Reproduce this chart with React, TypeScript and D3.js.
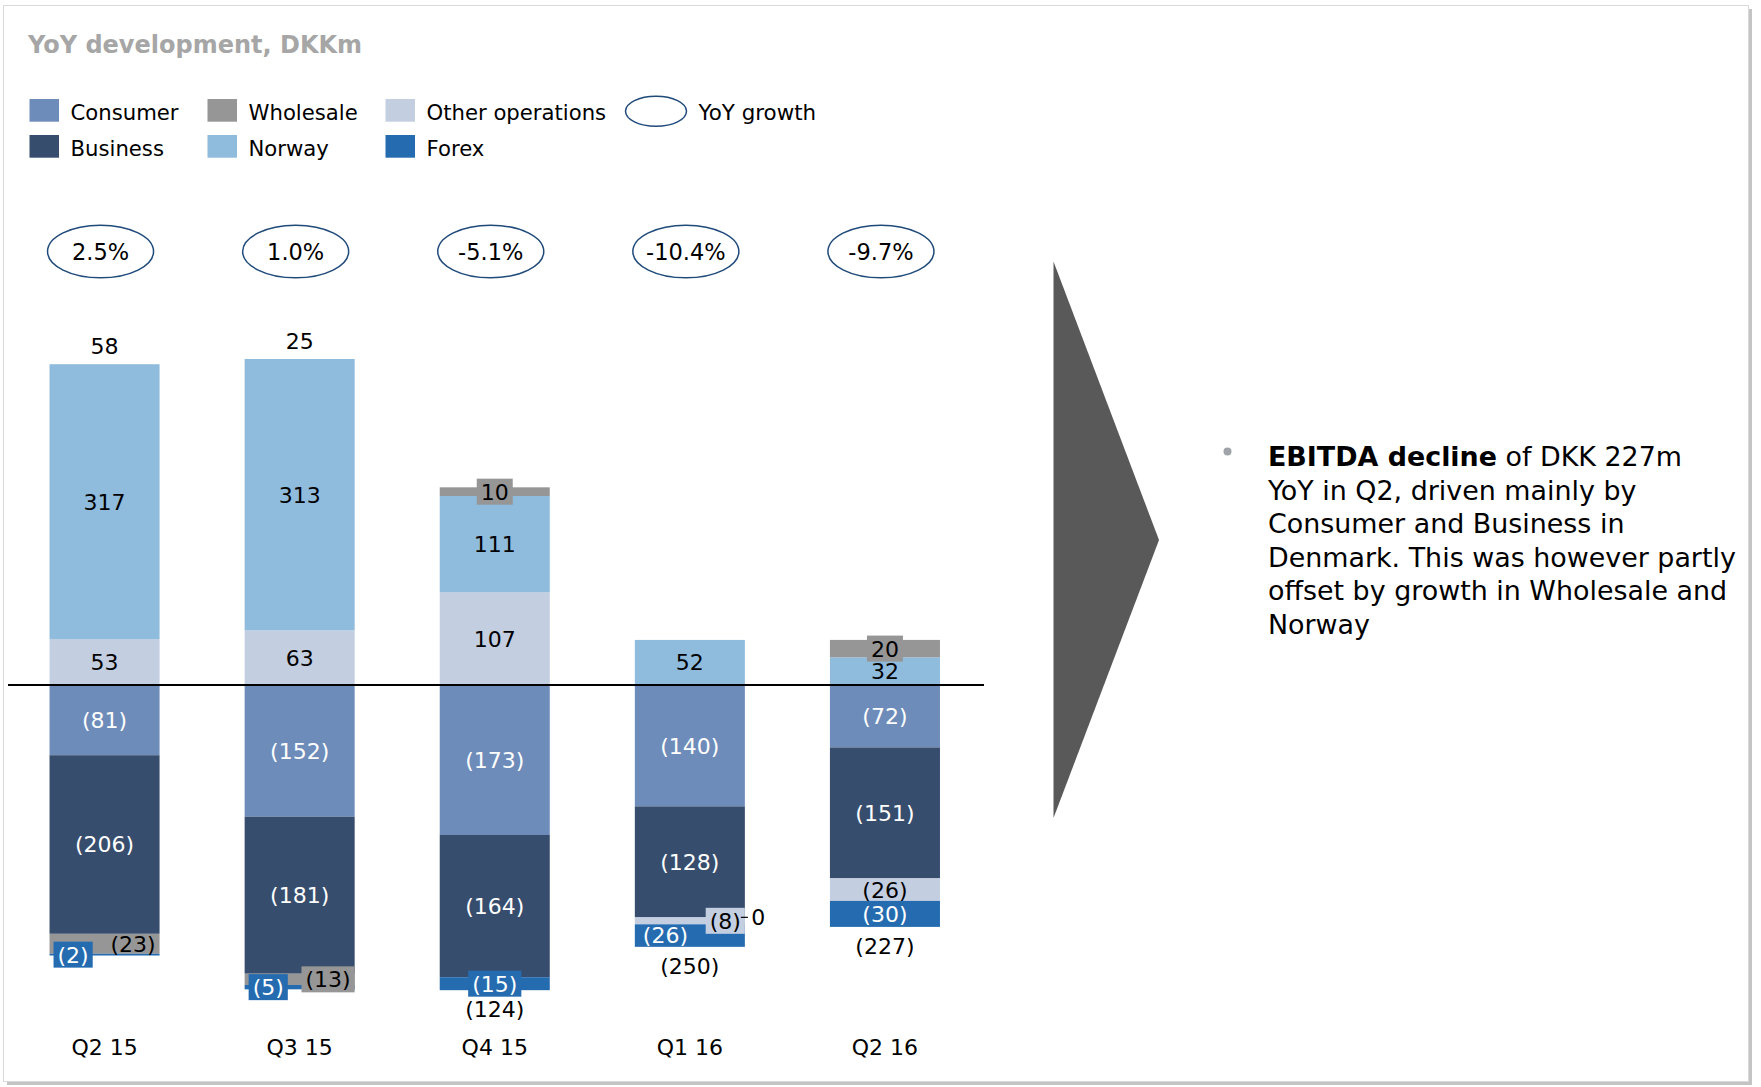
import React, { useEffect, useRef } from "react";
import * as d3 from "d3";

// Quarterly YoY EBITDA bridge, DKKm
const quarters = ["Q2 15", "Q3 15", "Q4 15", "Q1 16", "Q2 16"];
const consumer = [-81, -152, -173, -140, -72];
const business = [-206, -181, -164, -128, -151];
const wholesale = [-23, -13, 10, 0, 20];
const norway = [317, 313, 111, 52, 32];
const otherOperations = [53, 63, 107, -8, -26];
const forex = [-2, -5, -15, -26, -30];
const yoyGrowth = ["2.5%", "1.0%", "-5.1%", "-10.4%", "-9.7%"];

const legendRows = [
  ["Consumer", "Wholesale", "Other operations", "YoY growth"],
  ["Business", "Norway", "Forex"],
];

const bulletBold = "EBITDA decline";
const bulletLines = [
  " of DKK 227m",
  "YoY in Q2, driven mainly by",
  "Consumer and Business in",
  "Denmark. This was however partly",
  "offset by growth in Wholesale and",
  "Norway",
];

const COLORS: Record<string, string> = {
  Consumer: "#6E8CB9",
  Business: "#374D6D",
  Wholesale: "#969696",
  Norway: "#8FBBDC",
  "Other operations": "#C3CEE1",
  Forex: "#256BB0",
};
const LIGHT_TEXT = new Set(["Consumer", "Business", "Forex"]);
const FONT = "'DejaVu Sans', Verdana, sans-serif";
const NAVY = "#1F4A7A";

const fmt = (v: number) => (v < 0 ? `(${-v})` : `${v}`);

export default function App() {
  const ref = useRef<SVGSVGElement>(null);

  useEffect(() => {
    const svg = d3.select(ref.current!);
    svg.selectAll("*").remove();

    // frame with soft shadow
    svg.append("rect").attr("x", 7).attr("y", 9).attr("width", 1745).attr("height", 1076).attr("fill", "#C4C4C4");
    svg.append("rect").attr("x", 3.5).attr("y", 5.5).attr("width", 1745).attr("height", 1076)
      .attr("fill", "#fff").attr("stroke", "#D9D9D9").attr("stroke-width", 1);

    // title
    svg.append("text").attr("x", 28).attr("y", 53).attr("font-family", FONT)
      .attr("font-size", 24).attr("font-weight", "bold").attr("fill", "#A6A6A6")
      .text("YoY development, DKKm");

    // legend
    const legendColX = [29.5, 207.5, 385.5, 625];
    const legendRowY = [99, 135];
    legendRows.forEach((row, r) => {
      row.forEach((name, c) => {
        const g = svg.append("g").attr("transform", `translate(${legendColX[c]},${legendRowY[r]})`);
        if (name === "YoY growth") {
          g.append("ellipse").attr("cx", 31).attr("cy", 12.3).attr("rx", 30.5).attr("ry", 15)
            .attr("fill", "none").attr("stroke", NAVY).attr("stroke-width", 1.5);
          g.append("text").attr("x", 73.5).attr("y", 20.5).attr("font-family", FONT)
            .attr("font-size", 21.4).attr("fill", "#000").text(name);
        } else {
          g.append("rect").attr("width", 29.5).attr("height", 22.7).attr("fill", COLORS[name]);
          g.append("text").attr("x", 41).attr("y", 20.5).attr("font-family", FONT)
            .attr("font-size", 21.2).attr("fill", "#000").text(name);
        }
      });
    });

    // data rows and stacks
    const rows = quarters.map((q, i) => ({
      quarter: q,
      Consumer: consumer[i],
      Business: business[i],
      Wholesale: wholesale[i],
      Norway: norway[i],
      "Other operations": otherOperations[i],
      Forex: forex[i],
    })) as any[];

    const posKeys = ["Other operations", "Norway", "Wholesale"];
    const negKeys = ["Consumer", "Business", "Wholesale", "Other operations", "Forex"];
    const posStack = d3.stack<any>().keys(posKeys).value((d, k) => Math.max(0, d[k]))(rows);
    const negStack = d3.stack<any>().keys(negKeys).value((d, k) => Math.min(0, d[k]))(rows);

    const x = d3.scaleBand<string>().domain(quarters).range([7, 982.5])
      .paddingInner(0.436).paddingOuter(0.218);
    const y = d3.scaleLinear().domain([-400, 420]).range([685 + 400 * 0.867, 685 - 420 * 0.867]);
    const bw = x.bandwidth();

    type Seg = { key: string; j: number; v: number; y0: number; y1: number };
    const segs: Seg[] = [];
    const zeros: Seg[] = [];
    posStack.forEach((s) => s.forEach((p, j) => {
      const v = rows[j][s.key];
      if (v > 0) segs.push({ key: s.key, j, v, y0: p[0], y1: p[1] });
    }));
    negStack.forEach((s) => s.forEach((p, j) => {
      const v = rows[j][s.key];
      if (v < 0) segs.push({ key: s.key, j, v, y0: p[0], y1: p[1] });
      else if (v === 0) zeros.push({ key: s.key, j, v, y0: p[0], y1: p[1] });
    }));

    const chart = svg.append("g");

    // bars
    chart.selectAll("rect.seg").data(segs).join("rect").attr("class", "seg")
      .attr("x", (d) => x(quarters[d.j])!)
      .attr("width", bw)
      .attr("y", (d) => Math.min(y(d.y0), y(d.y1)))
      .attr("height", (d) => Math.abs(y(d.y0) - y(d.y1)))
      .attr("fill", (d) => COLORS[d.key]);

    // zero line
    chart.append("line").attr("x1", 8).attr("x2", 984).attr("y1", y(0)).attr("y2", y(0))
      .attr("stroke", "#000").attr("stroke-width", 2);

    // segment labels; crowded bottoms are split left / right
    const placement = new Map<Seg, "left" | "right" | "center">();
    quarters.forEach((_, j) => {
      const negs = segs.filter((s) => s.j === j && s.v < 0);
      const crowded = negs.some((s) => Math.abs(s.v) < 10);
      negs.forEach((s, i) => {
        if (crowded && i === negs.length - 2) placement.set(s, "right");
        else if (crowded && i === negs.length - 1) placement.set(s, "left");
      });
    });

    const labels = chart.append("g");
    segs.forEach((s) => {
      const x0 = x(quarters[s.j])!;
      const cy = (y(s.y0) + y(s.y1)) / 2;
      const h = Math.abs(y(s.y0) - y(s.y1));
      const pos = placement.get(s) || "center";
      const g = labels.append("g");
      const t = g.append("text").attr("font-family", FONT).attr("font-size", 22)
        .attr("fill", LIGHT_TEXT.has(s.key) ? "#fff" : "#000")
        .attr("y", cy).attr("dy", "0.36em").text(fmt(s.v));
      if (pos === "center") t.attr("x", x0 + bw / 2).attr("text-anchor", "middle");
      else if (pos === "right") t.attr("x", x0 + bw - 4).attr("text-anchor", "end");
      else t.attr("x", x0 + 8).attr("text-anchor", "start");
      if (h < 19) {
        const bb = (t.node() as SVGTextElement).getBBox();
        g.insert("rect", "text").attr("x", bb.x - 4).attr("width", bb.width + 8)
          .attr("y", cy - 13).attr("height", 26).attr("fill", COLORS[s.key]);
      }
    });

    // zero-valued segment marker
    zeros.forEach((z) => {
      const x1 = x(quarters[z.j])! + bw;
      const yy = y(z.y1);
      labels.append("line").attr("x1", x1 - 4).attr("x2", x1 + 3).attr("y1", yy).attr("y2", yy)
        .attr("stroke", "#000").attr("stroke-width", 1.2);
      labels.append("text").attr("x", x1 + 6.5).attr("y", yy).attr("dy", "0.36em")
        .attr("font-family", FONT).attr("font-size", 22).attr("fill", "#000").text("0");
    });

    // totals
    quarters.forEach((q, j) => {
      const own = segs.filter((s) => s.j === j);
      const total = d3.sum(own, (s) => s.v);
      const top = d3.max(own, (s) => Math.max(s.y0, s.y1)) ?? 0;
      const bottom = d3.min(own, (s) => Math.min(s.y0, s.y1)) ?? 0;
      const ty = total >= 0 ? y(top) - 18 : y(bottom) + 19;
      labels.append("text").attr("x", x(q)! + bw / 2).attr("y", ty).attr("dy", "0.36em")
        .attr("text-anchor", "middle").attr("font-family", FONT).attr("font-size", 22)
        .attr("fill", "#000").text(fmt(total));
    });

    // YoY growth bubbles
    quarters.forEach((q, j) => {
      const cx = x(q)! + bw / 2 - 4;
      chart.append("ellipse").attr("cx", cx).attr("cy", 251.5).attr("rx", 53).attr("ry", 26.3)
        .attr("fill", "#fff").attr("stroke", NAVY).attr("stroke-width", 1.5);
      chart.append("text").attr("x", cx).attr("y", 251.5).attr("dy", "0.36em")
        .attr("text-anchor", "middle").attr("font-family", FONT).attr("font-size", 22.5)
        .attr("fill", "#000").text(yoyGrowth[j]);
    });

    // category axis labels
    const axis = d3.axisBottom(x).tickSize(0).tickPadding(0);
    const ax = chart.append("g").attr("transform", "translate(0,1047)").call(axis);
    ax.select(".domain").remove();
    ax.selectAll("text").attr("font-family", FONT).attr("font-size", 22).attr("fill", "#000")
      .attr("dy", "0.36em").attr("y", 0);

    // arrow
    svg.append("path").attr("d", "M1053.5,261.5 L1159,540 L1053.5,818 Z").attr("fill", "#595959");

    // commentary bullet
    svg.append("circle").attr("cx", 1227.5).attr("cy", 451.5).attr("r", 4).attr("fill", "#A0A4A8");
    const bt = svg.append("text").attr("font-family", FONT).attr("font-size", 26.9).attr("fill", "#000");
    bt.append("tspan").attr("x", 1268).attr("y", 466).attr("font-weight", "bold").text(bulletBold);
    bulletLines.forEach((line, i) => {
      const ts = bt.append("tspan").text(line);
      if (i > 0) ts.attr("x", 1268).attr("y", 466 + i * 33.6);
    });
  }, []);

  return (
    <svg
      ref={ref}
      width={1761}
      height={1087}
      style={{ position: "absolute", left: 0, top: 0, background: "#fff" }}
    />
  );
}
